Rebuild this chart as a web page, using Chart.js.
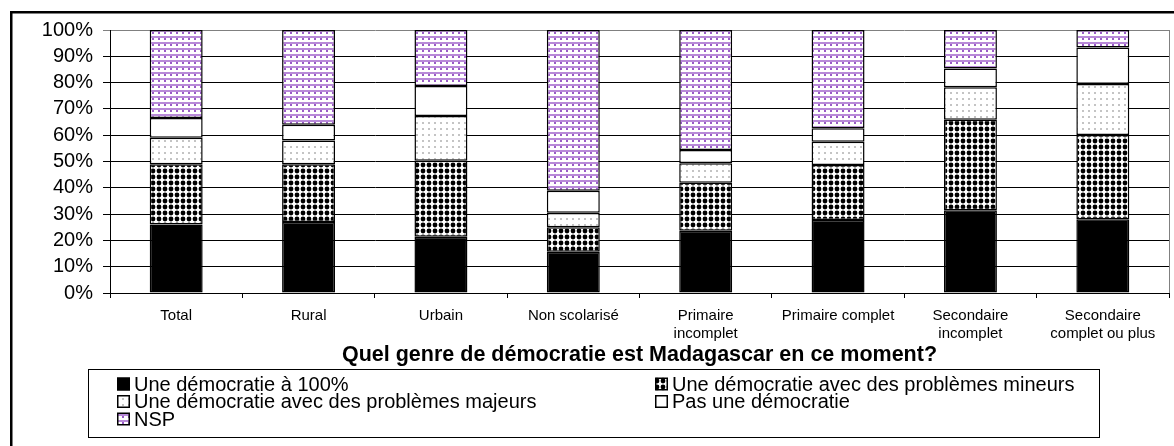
<!DOCTYPE html>
<html><head><meta charset="utf-8">
<script src="https://cdn.jsdelivr.net/npm/chart.js@4/dist/chart.umd.min.js"></script>
<style>html,body{margin:0;padding:0;background:#fff;}#wrap{width:1174px;height:446px;}</style>
</head><body><div id="wrap"><canvas id="c" width="1174" height="446"></canvas></div>
<script>
// ---- data ----
const categories = [["Total"],["Rural"],["Urbain"],["Non scolarisé"],["Primaire","incomplet"],["Primaire complet"],["Secondaire","incomplet"],["Secondaire","complet ou plus"]];
const seriesNames = ["Une démocratie à 100%","Une démocratie avec des problèmes mineurs","Une démocratie avec des problèmes majeurs","Pas une démocratie","NSP"];
const democratie100   = [26.0, 27.0, 21.4, 15.7, 23.7, 27.8, 31.5, 28.0];
const problemesMineurs = [23.0, 22.0, 28.9, 9.3, 18.2, 20.9, 34.4, 32.1];
const problemesMajeurs = [10.0, 9.0, 17.0, 5.5, 7.4, 8.8, 12.3, 19.4];
const pasDemocratie   = [7.5, 6.0, 11.4, 8.4, 5.1, 5.1, 7.2, 13.8];
const nsp             = [33.5, 36.0, 21.3, 61.1, 45.6, 37.4, 14.6, 6.7];
const yTickValues = [0,10,20,30,40,50,60,70,80,90,100];
const axisTitle = "Quel genre de démocratie est Madagascar en ce moment?";

const FONT = "'Liberation Sans', Arial, sans-serif";
Chart.defaults.font.family = FONT;
Chart.defaults.color = '#000';

const canvas = document.getElementById('c');
const ctx0 = canvas.getContext('2d');
function makePattern(w, h, draw){
  const c = document.createElement('canvas'); c.width = w; c.height = h;
  const g = c.getContext('2d'); g.fillStyle = '#fff'; g.fillRect(0,0,w,h); draw(g);
  return ctx0.createPattern(c, 'repeat');
}
const patSolid = '#000';
const patBigDots = makePattern(6, 6, g => { g.fillStyle = '#000'; g.beginPath(); g.arc(3,3,2.4,0,Math.PI*2); g.fill(); });
const patSmallDots = makePattern(6, 6, g => { g.fillStyle = '#c4c4c4'; g.fillRect(2,2,2,2); });
const patWhite = '#fff';
const patNsp = makePattern(6, 6, g => { g.fillStyle = '#b88ad8'; g.fillRect(0,0,6,2); g.fillStyle = '#9a5cc6'; g.fillRect(2,2,2,2); });

const seriesValues = [democratie100, problemesMineurs, problemesMajeurs, pasDemocratie, nsp];
const seriesFills = [patSolid, patBigDots, patSmallDots, patWhite, patNsp];

const datasets = seriesNames.map((name, i) => ({
  label: name,
  data: seriesValues[i],
  backgroundColor: seriesFills[i],
  borderColor: '#000',
  borderWidth: 1.5,
  borderSkipped: false,
  barPercentage: 0.4,
  categoryPercentage: 1.0
}));

const framePlugin = {
  id: 'frame',
  beforeDraw(chart){
    const c = chart.ctx; c.save(); c.fillStyle = '#fff'; c.fillRect(0,0,chart.width,chart.height); c.restore();
  },
  afterDraw(chart){
    const c = chart.ctx, a = chart.chartArea;
    c.save();
    // right plot border
    c.strokeStyle = '#808080'; c.lineWidth = 1;
    c.beginPath(); c.moveTo(Math.round(a.right)+0.5, a.top); c.lineTo(Math.round(a.right)+0.5, a.bottom); c.stroke();
    // outer frame
    c.strokeStyle = '#000'; c.lineWidth = 2.5;
    c.strokeRect(11.25, 12.25, 1300, 600);
    // legend
    const bx = 88.5, by = 369.5, bw = 1011, bh = 68;
    c.lineWidth = 1; c.strokeStyle = '#000';
    c.strokeRect(bx, by, bw, bh);
    const ds = chart.data.datasets;
    const pos = [[117,384],[655,384],[117,401.5],[655,401.5],[117,419]];
    c.font = '20px ' + FONT; c.textBaseline = 'middle'; c.fillStyle = '#000';
    ds.forEach((d, i) => {
      const [x, y] = pos[i];
      c.fillStyle = d.backgroundColor;
      c.fillRect(x, y-6.5, 13, 13);
      c.strokeStyle = '#000'; c.lineWidth = 1.5;
      c.strokeRect(x+0.75, y-5.75, 11.5, 11.5);
      c.fillStyle = '#000';
      c.fillText(d.label, x + 17, y + 1);
    });
    c.restore();
  }
};

new Chart(canvas, {
  type: 'bar',
  data: { labels: categories, datasets },
  options: {
    responsive: false, animation: false, devicePixelRatio: 1,
    layout: { padding: { top: 30, right: 5, left: 0, bottom: 78 } },
    plugins: { legend: { display: false }, tooltip: { enabled: false }, title: { display: false } },
    scales: {
      x: {
        stacked: true,
        grid: { display: true, drawOnChartArea: false, offset: true, tickLength: 5, color: '#000', lineWidth: 1 },
        border: { color: '#000', width: 1 },
        ticks: { font: { size: 15, lineHeight: 1.2 }, color: '#000', padding: 9, maxRotation: 0, autoSkip: false },
        title: { display: true, text: axisTitle, font: { size: 21.5, weight: 'bold', lineHeight: 1.2 }, color: '#000', padding: { top: 0, bottom: 0 } },
        afterFit: s => { s.height = 75; }
      },
      y: {
        stacked: true, min: 0, max: 100,
        afterBuildTicks: s => { s.ticks = yTickValues.map(v => ({ value: v })); },
        ticks: { callback: v => v + '%', font: { size: 20 }, color: '#000', padding: 10, autoSkip: false },
        grid: { color: ctx => (ctx.tick && ctx.tick.value === 100) ? '#808080' : '#000', lineWidth: 1, tickLength: 7 },
        border: { color: '#000', width: 1 },
        afterFit: s => { s.width = 110; }
      }
    }
  },
  plugins: [framePlugin]
});
</script></body></html>
